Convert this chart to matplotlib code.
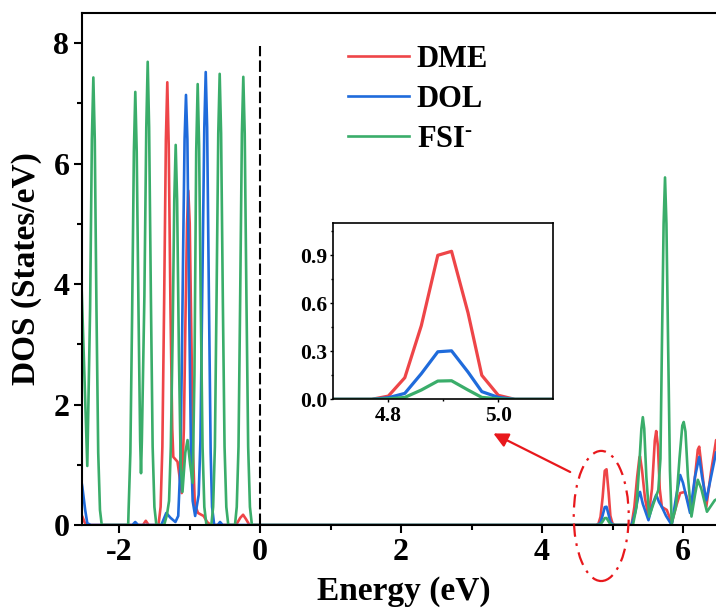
import matplotlib
matplotlib.use("Agg")
import matplotlib.pyplot as plt
from matplotlib.patches import Ellipse

plt.rcParams['font.family'] = ['Liberation Serif', 'DejaVu Serif']
plt.rcParams['font.weight'] = 'bold'
plt.rcParams['mathtext.fontset'] = 'custom'
plt.rcParams['mathtext.rm'] = 'Liberation Serif:bold'
plt.rcParams['mathtext.it'] = 'Liberation Serif:bold'
plt.rcParams['mathtext.bf'] = 'Liberation Serif:bold'

# ---------------- data ----------------
dme_x = [-2.60, -2.52, -2.49, -2.46, -1.66, -1.62, -1.58,
         -1.44, -1.41, -1.385, -1.36, -1.335, -1.315, -1.295, -1.27, -1.245,
         -1.23, -1.17, -1.11, -1.08, -1.055, -1.035, -1.017, -0.997, -0.972,
         -0.95, -0.925, -0.88, -0.80, -0.75, -0.70,
         -0.34, -0.28, -0.24, -0.20, -0.15,
         4.77, 4.80, 4.83, 4.86, 4.89, 4.915, 4.945, 4.97, 5.00, 5.03,
         5.27, 5.31, 5.35, 5.38, 5.39, 5.42, 5.46, 5.51, 5.56, 5.60, 5.62,
         5.645, 5.67, 5.70, 5.77, 5.84, 5.90, 5.96, 6.03, 6.12, 6.17, 6.21,
         6.23, 6.26, 6.33, 6.40, 6.47, 6.60]
dme_y = [0.30, 0.14, 0.05, 0.00, 0.00, 0.07, 0.00,
         0.00, 0.30, 1.30, 3.70, 6.40, 7.35, 6.30, 3.60, 1.60,
         1.13, 1.05, 0.53, 1.60, 3.60, 5.00, 5.55, 5.00, 3.00,
         1.20, 0.35, 0.20, 0.15, 0.05, 0.00,
         0.00, 0.12, 0.17, 0.10, 0.00,
         0.00, 0.02, 0.135, 0.46, 0.90, 0.925, 0.54, 0.15, 0.025, 0.00,
         0.00, 0.30, 0.80, 1.10, 1.14, 0.90, 0.45, 0.14, 0.60, 1.40, 1.56,
         1.30, 0.60, 0.30, 0.25, 0.03, 0.30, 0.53, 0.55, 0.20, 0.80, 1.25,
         1.30, 1.00, 0.30, 0.90, 1.41, 0.80]

dol_x = [-2.60, -2.52, -2.48, -2.45, -2.40, -1.81, -1.77, -1.73,
         -1.40, -1.33, -1.27, -1.20, -1.16, -1.13, -1.11, -1.09, -1.07,
         -1.05, -1.03, -1.005, -0.98, -0.955, -0.92, -0.87, -0.845, -0.82,
         -0.79, -0.77, -0.75, -0.725, -0.70, -0.68, -0.65, -0.60, -0.567,
         -0.53,
         4.77, 4.80, 4.83, 4.86, 4.89, 4.915, 4.945, 4.97, 5.00, 5.03,
         5.27, 5.32, 5.37, 5.39, 5.43, 5.51, 5.57, 5.62, 5.66, 5.70, 5.76,
         5.84, 5.90, 5.96, 6.00, 6.10, 6.17, 6.23, 6.27, 6.33, 6.47, 6.60]
dol_y = [1.20, 0.63, 0.25, 0.03, 0.00, 0.00, 0.05, 0.00,
         0.00, 0.20, 0.12, 0.05, 0.15, 1.00, 2.60, 4.60, 6.40,
         7.14, 6.40, 3.60, 1.30, 0.40, 0.15, 0.50, 1.40, 3.80,
         6.60, 7.52, 6.60, 3.80, 1.20, 0.30, 0.00, 0.00, 0.05,
         0.00,
         0.00, 0.01, 0.037, 0.16, 0.297, 0.303, 0.17, 0.048, 0.012, 0.00,
         0.00, 0.20, 0.50, 0.55, 0.35, 0.08, 0.35, 0.50, 0.38, 0.30, 0.15,
         0.00, 0.45, 0.83, 0.70, 0.20, 0.80, 1.13, 0.80, 0.41, 1.21, 0.90]

fsi_x = [-2.60, -2.45, -2.41, -2.385, -2.364, -2.344, -2.32, -2.295, -2.27,
         -2.245, -1.87, -1.864, -1.839, -1.814, -1.789, -1.769, -1.749,
         -1.724, -1.70, -1.688, -1.676, -1.64, -1.613, -1.593, -1.573,
         -1.548, -1.523, -1.498, -1.47, -1.36, -1.32, -1.29, -1.265, -1.24,
         -1.216, -1.196, -1.176, -1.15, -1.125, -1.10, -1.06, -1.028, -0.99,
         -0.955, -0.93, -0.905, -0.884, -0.864, -0.84, -0.815, -0.79, -0.76,
         -0.69, -0.665, -0.64, -0.617, -0.592, -0.572, -0.552, -0.527,
         -0.503, -0.478, -0.45, -0.355, -0.33, -0.305, -0.282, -0.257,
         -0.237, -0.217, -0.192, -0.168, -0.143, -0.115,
         4.77, 4.80, 4.83, 4.86, 4.89, 4.915, 4.945, 4.97, 5.00, 5.03,
         5.29, 5.34, 5.38, 5.41, 5.43, 5.45, 5.48, 5.52, 5.58, 5.65, 5.68,
         5.70, 5.725, 5.745, 5.765, 5.79, 5.815, 5.84, 5.90, 5.95, 5.99,
         6.01, 6.035, 6.07, 6.12, 6.17, 6.21, 6.26, 6.34, 6.45, 6.60]
fsi_y = [6.50, 0.98, 3.60, 6.40, 7.43, 6.40, 3.60, 1.20, 0.25,
         0.00, 0.00, 0.25, 1.20, 3.50, 6.20, 7.19, 6.20,
         3.60, 1.40, 0.86, 1.40, 3.80, 6.60, 7.69, 6.60,
         3.80, 1.30, 0.30, 0.00, 0.00, 0.17, 0.40, 1.30, 3.10,
         5.40, 6.31, 5.40, 2.80, 1.00, 0.55, 1.20, 1.41, 1.00,
         0.70, 2.50, 6.20, 7.32, 6.30, 3.60, 1.30, 0.30, 0.00,
         0.00, 0.30, 1.30, 3.70, 6.50, 7.49, 6.50, 3.70,
         1.30, 0.30, 0.00, 0.00, 0.30, 1.30, 3.70, 6.50,
         7.44, 6.50, 3.70, 1.30, 0.30, 0.00,
         0.00, 0.003, 0.012, 0.058, 0.114, 0.116, 0.058, 0.012, 0.003, 0.00,
         0.00, 0.30, 1.00, 1.60, 1.79, 1.60, 0.80, 0.14, 0.35, 0.58, 1.10,
         2.90, 5.00, 5.77, 5.00, 2.90, 0.90, 0.03, 0.30, 1.10, 1.65,
         1.71, 1.55, 0.80, 0.14, 0.50, 0.75, 0.60, 0.22, 0.41, 0.50]

series_labels = ['DME', 'DOL', r'FSI$^{\text{-}}$']
colors = ['#EE4548', '#1F6BDB', '#3AAD6A']

x_ticks = [-2, 0, 2, 4, 6]
y_ticks = [0, 2, 4, 6, 8]
inset_x_ticks = [4.8, 5.0]
inset_y_ticks = [0.0, 0.3, 0.6, 0.9]

# ---------------- figure ----------------
W, H = 716, 609
fig = plt.figure(figsize=(W / 100, H / 100), dpi=100)

x0, x1 = -2.525, 6.6
px_left = 82
px_per_unit = 70.5
px_right = 260 + x1 * px_per_unit
ax = fig.add_axes([px_left / W, 84 / H, (px_right - px_left) / W, 512 / H])

data = [(dme_x, dme_y), (dol_x, dol_y), (fsi_x, fsi_y)]
for (xs, ys), lab, c in zip(data, series_labels, colors):
    ax.plot(xs, ys, color=c, lw=1.9, label=lab, solid_joinstyle='round')

ax.plot([0, 0], [0, 7.95], color='black', lw=1.5, linestyle=(0, (5.5, 2)))

ax.set_xlim(x0, x1)
ax.set_ylim(0, 8.5)
ax.set_xticks(x_ticks)
ax.set_xticks([-1, 1, 3, 5], minor=True)
ax.set_yticks(y_ticks)
ax.set_yticks([1, 3, 5, 7], minor=True)
ax.set_xticklabels([str(t) for t in x_ticks])
ax.set_yticklabels([str(t) for t in y_ticks])
ax.tick_params(which='major', direction='out', length=6, width=1.5,
               labelsize=23, pad=3)
ax.tick_params(which='minor', direction='out', length=3.5, width=1.5)
ax.tick_params(top=False, right=False)
for s in ['left', 'bottom', 'top']:
    ax.spines[s].set_linewidth(1.5)
ax.spines['right'].set_visible(False)

ax.set_xlabel('Energy (eV)', fontsize=24, fontweight='bold', labelpad=6.5)
ax.set_ylabel('DOS (States/eV)', fontsize=24, fontweight='bold', labelpad=8)

leg = ax.legend(loc='upper left', bbox_to_anchor=(0.4135, 0.938), frameon=False,
                fontsize=22, handlelength=2.0, handletextpad=0.25,
                labelspacing=0.36, borderpad=0, borderaxespad=0)

# ellipse highlight and arrow
ell = Ellipse((4.84, 0.15), 0.78, 2.16, fill=False, edgecolor='#E8181C',
              lw=1.6, linestyle=(0, (6, 3, 1.2, 3)), clip_on=False, zorder=5)
ax.add_patch(ell)
ax.annotate('', xy=(3.31, 1.52), xytext=(4.40, 0.88),
            arrowprops=dict(arrowstyle='-|>', color='#E8181C', lw=1.6,
                            mutation_scale=22, shrinkA=0, shrinkB=0))

# ---------------- inset ----------------
axins = fig.add_axes([333.3 / W, (H - 399.3) / H, 220 / W, 176 / H])
for (xs, ys), c in zip(data, colors):
    axins.plot(xs, ys, color=c, lw=2.3)
axins.set_xlim(4.7, 5.1)
axins.set_ylim(0, 1.1)
axins.set_xticks(inset_x_ticks)
axins.set_xticks([4.9], minor=True)
axins.set_yticks(inset_y_ticks)
axins.set_yticks([0.15, 0.45, 0.75, 1.05], minor=True)
axins.set_xticklabels(['%.1f' % t for t in inset_x_ticks])
axins.set_yticklabels(['%.1f' % t for t in inset_y_ticks])
axins.tick_params(which='major', direction='out', length=2.5, width=1.0,
                  labelsize=15.5, pad=2)
axins.tick_params(which='minor', direction='out', length=1.5, width=1.0)
for s in axins.spines.values():
    s.set_linewidth(1.2)

fig.savefig('out.png', dpi=100)
